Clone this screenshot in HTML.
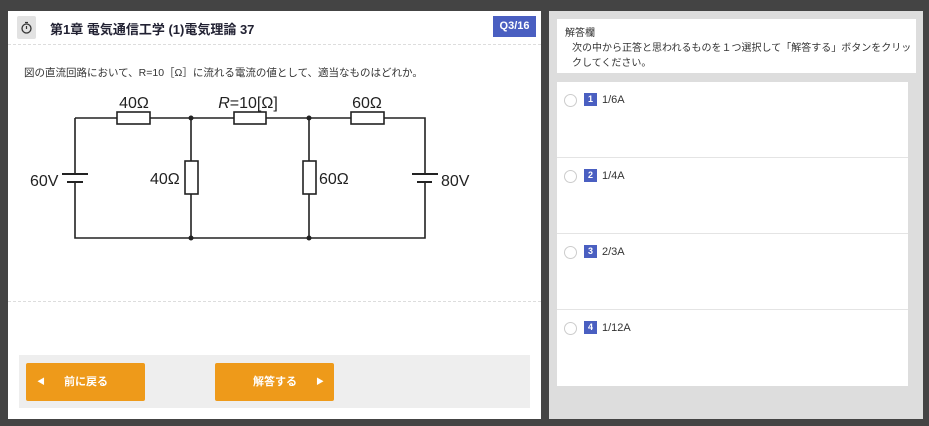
<!DOCTYPE html>
<html><head><meta charset="utf-8"><style>
*{margin:0;padding:0;box-sizing:border-box}
body{width:929px;height:426px;background:#444;position:relative;overflow:hidden;font-family:"Liberation Sans","Noto Sans CJK JP",sans-serif;color:#333}
.abs{position:absolute}
</style></head><body>
<div class="abs" style="left:8px;top:11px;width:533px;height:408px;background:#fff"></div>
<div class="abs" style="left:17px;top:16px;width:19px;height:23px;background:#e2e2e2;border-radius:2px"></div>
<svg class="abs" style="left:20px;top:21px" width="13" height="14"><circle cx="6.5" cy="7.5" r="4.5" fill="none" stroke="#333" stroke-width="1.3"/><line x1="6.5" y1="5" x2="6.5" y2="8" stroke="#333" stroke-width="1.2"/><line x1="5" y1="1.5" x2="8" y2="1.5" stroke="#333" stroke-width="1.2"/></svg>
<div class="abs" style="left:50px;top:19px;font-size:13px;font-weight:bold;color:#223">第1章 電気通信工学 (1)電気理論 37</div>
<div class="abs" style="left:493px;top:16px;width:43px;height:21px;background:#4a5fc1;color:#fff;font-size:11px;font-weight:bold;text-align:center;line-height:21px">Q3/16</div>
<div class="abs" style="left:8px;top:44px;width:533px;border-top:1px dashed #ddd"></div>
<div class="abs" style="left:24px;top:65px;font-size:10.5px;color:#333">図の直流回路において、R=10［Ω］に流れる電流の値として、適当なものはどれか。</div>
<svg class="abs" style="left:0;top:0" width="545" height="300" font-family="Liberation Sans, sans-serif" font-size="16" fill="#222">
<g stroke="#222" stroke-width="1.6" fill="none">
<path d="M75 118H117M150 118H234M266 118H351M384 118H425V174M425 182V238H75V182M75 174V118"/>
<rect x="117" y="112" width="33" height="12" fill="#fff"/>
<rect x="234" y="112" width="32" height="12" fill="#fff"/>
<rect x="351" y="112" width="33" height="12" fill="#fff"/>
<path d="M191 118V161M191 194V238M309 118V161M309 194V238"/>
<rect x="185" y="161" width="13" height="33" fill="#fff"/>
<rect x="303" y="161" width="13" height="33" fill="#fff"/>
<path d="M62 174H88M67 182H83M412 174H438M417 182H432" stroke-width="2"/>
</g>
<circle cx="191" cy="118" r="2.5"/><circle cx="309" cy="118" r="2.5"/><circle cx="191" cy="238" r="2.5"/><circle cx="309" cy="238" r="2.5"/>
<text x="134" y="108" text-anchor="middle">40Ω</text>
<text x="248" y="108" text-anchor="middle"><tspan font-style="italic">R</tspan>=10[Ω]</text>
<text x="367" y="108" text-anchor="middle">60Ω</text>
<text x="30" y="186">60V</text>
<text x="150" y="184">40Ω</text>
<text x="319" y="184">60Ω</text>
<text x="441" y="186">80V</text>
</svg>
<div class="abs" style="left:8px;top:301px;width:533px;border-top:1px dashed #ddd"></div>
<div class="abs" style="left:19px;top:355px;width:511px;height:53px;background:#eee"></div>
<div class="abs" style="left:26px;top:363px;width:119px;height:38px;background:#ee9a1a;border-radius:2px;color:#fff;font-size:11px;font-weight:bold;line-height:38px"><span style="position:absolute;left:11px;font-size:8px">◀</span><span style="position:absolute;left:38px">前に戻る</span></div>
<div class="abs" style="left:215px;top:363px;width:119px;height:38px;background:#ee9a1a;border-radius:2px;color:#fff;font-size:11px;font-weight:bold;line-height:38px"><span style="position:absolute;left:38px">解答する</span><span style="position:absolute;left:101px;font-size:8px">▶</span></div>

<div class="abs" style="left:549px;top:11px;width:374px;height:408px;background:#ddd"></div>
<div class="abs" style="left:557px;top:19px;width:359px;height:54px;background:#fff"></div>
<div class="abs" style="left:565px;top:24px;font-size:10px;color:#333">解答欄</div>
<div class="abs" style="left:572px;top:41px;width:342px;font-size:10px;line-height:15px;color:#333">次の中から正答と思われるものを１つ選択して「解答する」ボタンをクリックしてください。</div>
<div class="abs" style="left:557px;top:82px;width:351px;height:304px;background:#fff"></div>
<div class="abs" style="left:557px;top:157px;width:351px;border-top:1px solid #e4e4e4"></div>
<div class="abs" style="left:557px;top:233px;width:351px;border-top:1px solid #e4e4e4"></div>
<div class="abs" style="left:557px;top:309px;width:351px;border-top:1px solid #e4e4e4"></div>
<div class="abs" style="left:564px;top:93px;font-size:11px">
<div style="position:relative;height:76px"><span style="position:absolute;left:0;top:1px;width:13px;height:13px;border:1.5px solid #ccc;border-radius:50%"></span><span style="position:absolute;left:20px;top:0;width:13px;height:13px;background:#4a5fc1;color:#fff;font-size:9px;font-weight:bold;text-align:center;line-height:13px">1</span><span style="position:absolute;left:38px;top:1px">1/6A</span></div>
<div style="position:relative;height:76px"><span style="position:absolute;left:0;top:1px;width:13px;height:13px;border:1.5px solid #ccc;border-radius:50%"></span><span style="position:absolute;left:20px;top:0;width:13px;height:13px;background:#4a5fc1;color:#fff;font-size:9px;font-weight:bold;text-align:center;line-height:13px">2</span><span style="position:absolute;left:38px;top:1px">1/4A</span></div>
<div style="position:relative;height:76px"><span style="position:absolute;left:0;top:1px;width:13px;height:13px;border:1.5px solid #ccc;border-radius:50%"></span><span style="position:absolute;left:20px;top:0;width:13px;height:13px;background:#4a5fc1;color:#fff;font-size:9px;font-weight:bold;text-align:center;line-height:13px">3</span><span style="position:absolute;left:38px;top:1px">2/3A</span></div>
<div style="position:relative;height:76px"><span style="position:absolute;left:0;top:1px;width:13px;height:13px;border:1.5px solid #ccc;border-radius:50%"></span><span style="position:absolute;left:20px;top:0;width:13px;height:13px;background:#4a5fc1;color:#fff;font-size:9px;font-weight:bold;text-align:center;line-height:13px">4</span><span style="position:absolute;left:38px;top:1px">1/12A</span></div>
</div>
</body></html>
